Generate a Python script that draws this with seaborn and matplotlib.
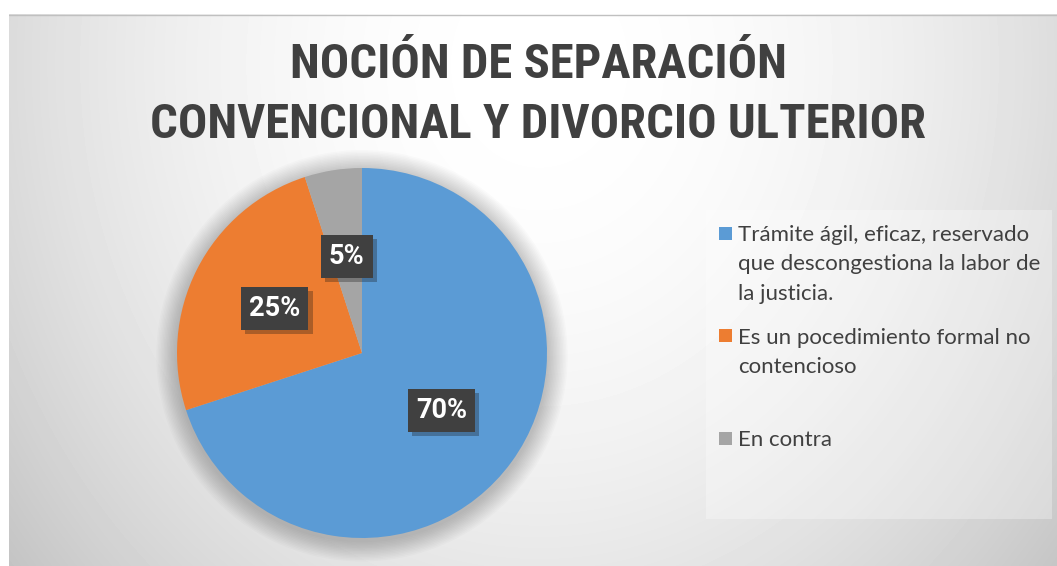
import numpy as np
import matplotlib
matplotlib.use("Agg")
import matplotlib.pyplot as plt
import matplotlib.patheffects as pe
from matplotlib import font_manager
import seaborn as sns

# -------------------- datos --------------------
categorias = [
    "Trámite ágil, eficaz, reservado\nque descongestiona la labor de\nla justicia.",
    "Es un pocedimiento formal no\ncontencioso",
    "En contra",
]
porcentajes = [70, 25, 5]
colores = ["#5B9BD5", "#ED7D31", "#A5A5A5"]
titulo = ["NOCIÓN DE SEPARACIÓN", "CONVENCIONAL Y DIVORCIO ULTERIOR"]

sns.set_style("white")


def con_negrita(candidatas):
    for nombre in candidatas:
        for f in font_manager.fontManager.ttflist:
            if f.name == nombre and f.weight in (700, "bold"):
                return nombre
    return "DejaVu Sans"


fuente_titulo = con_negrita(["Roboto Condensed", "Liberation Sans Narrow", "Roboto", "Open Sans"])
fuente_negrita = con_negrita(["Roboto", "Open Sans", "Noto Sans"])
plt.rcParams["font.family"] = ["Lato", "DejaVu Sans"]

W, H = 1057, 566
fig = plt.figure(figsize=(W / 100, H / 100), dpi=100, facecolor="white")

# fondo con degradado radial (estilo Excel)
bg = fig.add_axes([9 / W, 0, 1 - 9 / W, (H - 14) / H])
bw, bh = W - 9, H - 14
xx, yy = np.meshgrid(np.arange(bw), np.arange(bh))
r2 = ((xx - 530) / 600.0) ** 2 + ((yy - 50) / 700.0) ** 2
grad = np.clip(1 - 0.18 * r2, 0, 1)
bg.imshow(grad, cmap="gray", vmin=0, vmax=1, aspect="auto",
          extent=[0, bw, bh, 0], interpolation="bilinear")
bg.plot([0, bw], [0.5, 0.5], color="#c0c0c0", lw=1)
bg.set_xlim(0, bw)
bg.set_ylim(bh, 0)
bg.axis("off")

# capa en píxeles para título y leyenda
lg = fig.add_axes([0, 0, 1, 1], facecolor="none")
lg.set_xlim(0, W)
lg.set_ylim(H, 0)
lg.axis("off")

fig.canvas.draw()
ren = fig.canvas.get_renderer()

# título (ajustado al ancho de la referencia)
t2 = lg.text(538, 125, titulo[1], ha="center", va="center", fontsize=30,
             fontweight="bold", color="#404040", family=[fuente_titulo, "DejaVu Sans"])
fs = 30 * 775 / t2.get_window_extent(ren).width
t2.set_fontsize(fs)
lg.text(538, 65, titulo[0], ha="center", va="center", fontsize=fs,
        fontweight="bold", color="#404040", family=[fuente_titulo, "DejaVu Sans"])

# pastel
cx, cy, R = 362, 353, 185
half = 215
ax = fig.add_axes([(cx - half) / W, (H - cy - half) / H, 2 * half / W, 2 * half / H])
lim = half / R
ax.set_aspect("equal")
ax.axis("off")

# sombra suave alrededor del pastel
for i in range(14):
    ax.add_patch(plt.Circle((0, -0.015), 1.0 + 0.008 * (i + 1), color="black",
                            alpha=0.016, lw=0, zorder=0))

wedges, _, autotexts = ax.pie(
    porcentajes, colors=colores, startangle=90, counterclock=False,
    radius=1, autopct="%d%%", pctdistance=0.53,
    wedgeprops=dict(linewidth=0, zorder=2),
    textprops=dict(color="white", fontsize=19.5, fontweight="bold",
                   family=[fuente_negrita, "DejaVu Sans"]),
)
for t in autotexts:
    t.set_zorder(5)
    t.set_bbox(dict(boxstyle="square,pad=0.3", fc="#404040", ec="none"))
    t.get_bbox_patch().set_path_effects(
        [pe.SimplePatchShadow(offset=(3, -3), alpha=0.3), pe.Normal()])
ax.set_xlim(-lim, lim)
ax.set_ylim(-lim, lim)

# leyenda
lg.add_patch(plt.Rectangle((706, 210), 346, 309, fc="white", alpha=0.3, ec="none"))
prueba = lg.text(0, 0, categorias[0].split("\n")[0], fontsize=17.5)
fs_ley = 17.5 * 290 / prueba.get_window_extent(ren).width
prueba.remove()
linea = 29.5
y = 233
for cat, col in zip(categorias, colores):
    lg.add_patch(plt.Rectangle((719, y - 6.5), 13, 13, fc=col, ec="none"))
    partes = cat.split("\n")
    for k, txt in enumerate(partes):
        lg.text(738, y + k * linea, txt, ha="left", va="center_baseline",
                fontsize=fs_ley, color="#404040")
    n = len(partes)
    y += linea * n + 14
    if n == 2:
        y += linea

fig.savefig("out.png", dpi=100, facecolor="white")
